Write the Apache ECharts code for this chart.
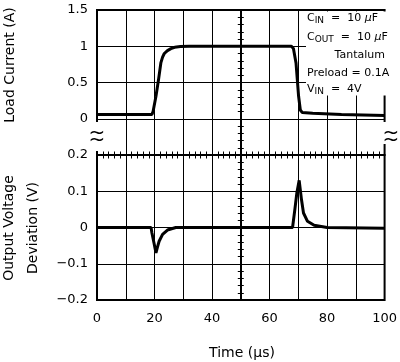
<!DOCTYPE html>
<html><head><meta charset="utf-8">
<script src="https://cdn.jsdelivr.net/npm/echarts@6/dist/echarts.min.js"></script>
<style>html,body{margin:0;padding:0;background:#fff}#c{width:400px;height:362px}</style>
</head><body><div id="c"></div>
<script>
// ---- data ----
const loadTime    = [0, 19.1, 19.5, 20.5, 21.4, 22.2, 22.8, 23.4, 24.5, 25.7, 27, 29, 32, 67.6, 68.3, 69.2, 70.1, 70.7, 71.4, 75, 85, 100];
const loadCurrent = [0.06, 0.06, 0.1, 0.31, 0.54, 0.77, 0.85, 0.9, 0.94, 0.967, 0.985, 0.995, 1.0, 1.0, 0.97, 0.77, 0.31, 0.12, 0.085, 0.075, 0.06, 0.045];
const devTime     = [0, 18.8, 19.1, 19.8, 20.5, 21.0, 21.6, 22.8, 24.5, 27.4, 68, 68.8, 69.5, 70.3, 71.1, 71.8, 73.2, 75.5, 80, 100];
const devVoltage  = [0, 0, -0.015, -0.042, -0.07, -0.055, -0.038, -0.019, -0.007, 0, 0, 0.05, 0.096, 0.13, 0.077, 0.04, 0.017, 0.006, 0, -0.002];
const currentTicks = [0, 0.5, 1, 1.5];
const voltageTicks = [-0.2, -0.1, 0, 0.1, 0.2];
const timeTicks    = [0, 20, 40, 60, 80, 100];

const FONT = 'DejaVu Sans';
const has = (arr, v) => arr.some(t => Math.abs(t - v) < 1e-6);
const fmtNum = v => { const s = String(+v.toFixed(2)); return s.replace('-', '\u2212'); };

const chart = echarts.init(document.getElementById('c'), null, { renderer: 'canvas' });
const blackLine = { color: '#000', width: 1 };

const centerY = (inside) => ({
  type: 'value', min: 0, max: 40, interval: 1, position: 'left',
  axisLine: { show: true, onZero: true, onZeroAxisIndex: 1, lineStyle: { color: '#000', width: 2 } },
  axisTick: { show: true, inside: inside, length: 3, lineStyle: { color: '#000', width: 1 } },
  axisLabel: { show: false }, splitLine: { show: false }
});
const centerX = (inside) => ({
  type: 'value', min: 0, max: 100, interval: 2, position: 'bottom',
  axisLine: { show: true, onZero: true, onZeroAxisIndex: 4, lineStyle: { color: '#000', width: 2 } },
  axisTick: { show: true, inside: inside, length: 3.5, lineStyle: { color: '#000', width: 1 } },
  axisLabel: { show: false }, splitLine: { show: false }
});

const sub = (t) => '{s|' + t + '}';
const richStyle = {
  m: { fontFamily: FONT, fontSize: 11, color: '#000', lineHeight: 14 },
  s: { fontFamily: FONT, fontSize: 9, color: '#000', lineHeight: 9, verticalAlign: 'bottom' },
  i: { fontFamily: FONT, fontSize: 11, color: '#000', lineHeight: 14, fontStyle: 'italic' }
};
const breakMark = (x) => ({ type: 'text', z: 51, x: x, y: 137,
  style: { text: '~\n~', fontFamily: FONT, fontSize: 20, lineHeight: 7, fill: '#000', align: 'center', verticalAlign: 'middle' } });

const option = {
  animation: false,
  backgroundColor: '#fff',
  grid: { left: 97, right: 12, top: 10, bottom: 62, show: true, borderColor: '#000', borderWidth: 2, backgroundColor: 'transparent' },
  xAxis: [
    { type: 'value', min: 0, max: 100, interval: 10, position: 'bottom',
      axisLine: { show: false, onZero: false }, axisTick: { show: false },
      axisLabel: { color: '#000', fontFamily: FONT, fontSize: 13, margin: 12,
        formatter: v => has(timeTicks, v) ? String(v) : '' },
      splitLine: { show: true, lineStyle: blackLine } },
    { type: 'value', min: -50, max: 50, show: false, axisLine: { onZero: false } },
    centerX(true),
    centerX(false)
  ],
  yAxis: [
    { type: 'value', min: -2.5, max: 1.5, interval: 0.5, position: 'left',
      axisLine: { show: false, onZero: false }, axisTick: { show: false },
      axisLabel: { color: '#000', fontFamily: FONT, fontSize: 13, margin: 9,
        formatter: v => (v > -1e-6 && has(currentTicks, v)) ? fmtNum(v) : '' },
      splitLine: { show: true, lineStyle: blackLine } },
    { type: 'value', min: -0.2, max: 0.6, interval: 0.1, position: 'left',
      axisLine: { show: false, onZero: false }, axisTick: { show: false },
      axisLabel: { color: '#000', fontFamily: FONT, fontSize: 13, margin: 9,
        formatter: v => (v < 0.2 + 1e-6 && has(voltageTicks, v)) ? fmtNum(v) : '' },
      splitLine: { show: false } },
    centerY(true),
    centerY(false),
    { type: 'value', min: -4, max: 4, show: false, axisLine: { onZero: false } }
  ],
  series: [
    { type: 'line', xAxisIndex: 0, yAxisIndex: 0, showSymbol: false, symbol: 'none',
      lineStyle: { color: '#000', width: 3 }, z: 5,
      data: loadTime.map((t, i) => [t, loadCurrent[i]]) },
    { type: 'line', xAxisIndex: 0, yAxisIndex: 1, showSymbol: false, symbol: 'none',
      lineStyle: { color: '#000', width: 3 }, z: 5,
      data: devTime.map((t, i) => [t, devVoltage[i]]) }
  ],
  graphic: [
    // legend box
    { type: 'rect', z: 50, shape: { x: 306, y: 11.5, width: 81, height: 84 }, style: { fill: '#fff' } },
    { type: 'text', z: 51, x: 307, y: 18, style: { text: '{m|C}' + sub('IN') + '{m|  =  10 }{i|\u03bc}{m|F}', rich: richStyle, verticalAlign: 'middle' } },
    { type: 'text', z: 51, x: 307, y: 37, style: { text: '{m|C}' + sub('OUT') + '{m|  =  10 }{i|\u03bc}{m|F}', rich: richStyle, verticalAlign: 'middle' } },
    { type: 'text', z: 51, x: 385, y: 55, style: { text: 'Tantalum', fontFamily: FONT, fontSize: 11, fill: '#000', align: 'right', verticalAlign: 'middle' } },
    { type: 'text', z: 51, x: 307, y: 73, style: { text: 'Preload = 0.1A', fontFamily: FONT, fontSize: 11, fill: '#000', verticalAlign: 'middle' } },
    { type: 'text', z: 51, x: 307, y: 89, style: { text: '{m|V}' + sub('IN') + '{m|  =  4V}', rich: richStyle, verticalAlign: 'middle' } },
    // break marks
    { type: 'rect', z: 50, shape: { x: 90, y: 122, width: 15, height: 29 }, style: { fill: '#fff' } },
    { type: 'rect', z: 50, shape: { x: 381, y: 122, width: 15, height: 22 }, style: { fill: '#fff' } },
    breakMark(97),
    breakMark(391),
    // axis titles
    { type: 'text', x: 10, y: 65, rotation: Math.PI / 2, style: { text: 'Load Current (A)', fontFamily: FONT, fontSize: 14, fill: '#000', align: 'center', verticalAlign: 'middle' } },
    { type: 'text', x: 21, y: 228, rotation: Math.PI / 2, style: { text: 'Output Voltage\nDeviation (V)', fontFamily: FONT, fontSize: 14, lineHeight: 24, fill: '#000', align: 'center', verticalAlign: 'middle' } },
    { type: 'text', x: 242, y: 353, style: { text: 'Time (\u03bcs)', fontFamily: FONT, fontSize: 14, fill: '#000', align: 'center', verticalAlign: 'middle' } }
  ]
};
chart.setOption(option);
</script></body></html>
